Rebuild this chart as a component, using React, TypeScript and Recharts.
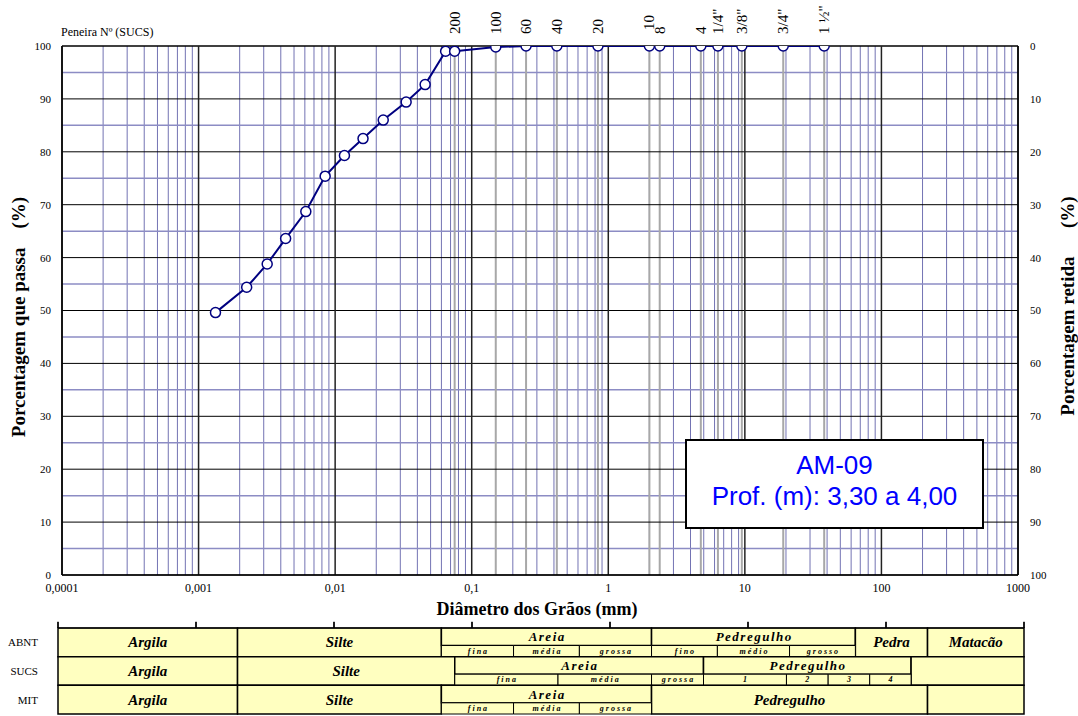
import React from 'react';
import { ComposedChart, Line, XAxis, YAxis, ReferenceLine, ReferenceArea, Label } from 'recharts';

// curva granulométrica (sedimentação + peneiramento)
const grainSizes = [0.00133, 0.00225, 0.00318, 0.00434, 0.0061, 0.00845, 0.0117, 0.016, 0.0225, 0.0331, 0.0456, 0.0644, 0.075, 0.15, 0.25, 0.42, 0.84, 2.0, 2.38, 4.76, 6.35, 9.5, 19.1, 38.1];
const percentPassing = [49.6, 54.4, 58.8, 63.6, 68.7, 75.4, 79.3, 82.5, 86.0, 89.4, 92.7, 99.0, 99.0, 99.8, 100, 100, 100, 100, 100, 100, 100, 100, 100, 100];

const sieveSizes = [0.075, 0.15, 0.25, 0.42, 0.84, 2.0, 2.38, 4.76, 6.35, 9.5, 19.1, 38.1];
const sieveLabels = ['200', '100', '60', '40', '20', '10', '8', '4', '1/4"', '3/8"', '3/4"', '1 ½"'];

const decades = [0.0001, 0.001, 0.01, 0.1, 1, 10, 100, 1000];
const decadeLabels = ['0,0001', '0,001', '0,01', '0,1', '1', '10', '100', '1000'];
const minorSteps = [2, 3, 4, 5, 6, 7, 8, 9];
const percentTicks = [0, 10, 20, 30, 40, 50, 60, 70, 80, 90, 100];
const halfTicks = [5, 15, 25, 35, 45, 55, 65, 75, 85, 95];

// tabela de classificação: [nome, de (mm), até (mm)]
const systems = ['ABNT', 'SUCS', 'MIT'];
const abntClasses = [['Argila', 0.0001, 0.002], ['Silte', 0.002, 0.06], ['Areia', 0.06, 2], ['Pedregulho', 2, 60], ['Pedra', 60, 200], ['Matacão', 200, 1000]];
const abntSubclasses = [['fina', 0.06, 0.2], ['média', 0.2, 0.6], ['grossa', 0.6, 2], ['fino', 2, 6], ['médio', 6, 20], ['grosso', 20, 60]];
const sucsClasses = [['Argila', 0.0001, 0.002], ['Silte', 0.002, 0.075], ['Areia', 0.075, 4.76], ['Pedregulho', 4.76, 152], ['', 152, 1000]];
const sucsSubclasses = [['fina', 0.075, 0.42], ['média', 0.42, 2], ['grossa', 2, 4.76], ['1', 4.76, 19], ['2', 19, 38.1], ['3', 38.1, 76.2], ['4', 76.2, 152]];
const mitClasses = [['Argila', 0.0001, 0.002], ['Silte', 0.002, 0.06], ['Areia', 0.06, 2], ['Pedregulho', 2, 200], ['', 200, 1000]];
const mitSubclasses = [['fina', 0.06, 0.2], ['média', 0.2, 0.6], ['grossa', 0.6, 2]];

const curve = grainSizes.map((d, i) => ({ d, pass: percentPassing[i] }));
const minorGrid = decades.slice(0, -1).flatMap((d) => minorSteps.map((m) => d * m));
const tableScaleData = decades.map((d) => ({ d, row: 0 }));

const HEAD = 0.61;
const tableRows: any[] = [[abntClasses, abntSubclasses], [sucsClasses, sucsSubclasses], [mitClasses, mitSubclasses]];
const cells = tableRows.flatMap(([main, sub]: any[], r: number) => [
  ...main.map(([name, a, b]: any) => {
    const split = sub.some(([, sa, sb]: any) => sa >= a && sb <= b);
    return { name, a, b, y1: r, y2: split ? r + HEAD : r + 1, kind: split ? 'head' : 'main' };
  }),
  ...sub.map(([name, a, b]: any) => ({ name, a, b, y1: r + HEAD, y2: r + 1, kind: 'sub' })),
]);

const NAVY = '#000080';
const SERIF = '"Liberation Serif", "Times New Roman", serif';

const SieveTick = ({ x, payload }: any) => {
  const label = sieveLabels[sieveSizes.indexOf(payload?.value)] ?? '';
  return (
    <text transform={`translate(${x + 5},${label === '10' ? 30 : 34}) rotate(-90)`} fontSize={15} fill="#000">
      {label}
    </text>
  );
};

const VerticalTitle = ({ text, cx, cy }: any) => (
  <text
    transform={`translate(${cx},${cy}) rotate(-90)`}
    textAnchor="middle"
    fontSize={19}
    fontWeight="bold"
    fill="#000"
    style={{ whiteSpace: 'pre' }}
  >
    {text}
  </text>
);

const CellText = ({ viewBox, text, kind }: any) => {
  if (!text || !viewBox) return null;
  const { x, y, width, height } = viewBox;
  const size = kind === 'sub' ? 8 : kind === 'head' ? 13 : 15;
  const spacing = kind === 'sub' ? 2 : kind === 'head' ? 1.5 : 0;
  return (
    <text
      x={x + width / 2 + spacing / 2}
      y={y + height / 2}
      textAnchor="middle"
      dominantBaseline="central"
      fontSize={size}
      fontWeight="bold"
      fontStyle="italic"
      letterSpacing={spacing}
      fill="#000"
    >
      {text}
    </text>
  );
};

export default function App() {
  return (
    <div style={{ position: 'absolute', left: 0, top: 0, width: 1078, height: 716, background: '#fff', fontFamily: SERIF }}>
      <div style={{ position: 'absolute', left: 0, top: 0 }}>
        <ComposedChart width={1078} height={640} data={curve} margin={{ top: 6, right: 20, bottom: 20, left: 22 }}>
          <XAxis
            dataKey="d"
            type="number"
            scale="log"
            domain={[0.0001, 1000]}
            allowDataOverflow
            ticks={decades}
            interval={0}
            tickFormatter={(v: number) => decadeLabels[decades.indexOf(v)] ?? ''}
            tickLine={false}
            tickSize={0}
            tickMargin={8}
            tick={{ fontSize: 12, fill: '#000' }}
            axisLine={{ stroke: '#000', strokeWidth: 1.5 }}
            height={45}
          >
            <Label
              content={() => (
                <text x={537} y={615} textAnchor="middle" fontSize={18} fontWeight="bold" fill="#000">
                  Diâmetro dos Grãos (mm)
                </text>
              )}
            />
          </XAxis>
          <XAxis
            xAxisId="sieve"
            dataKey="d"
            orientation="top"
            type="number"
            scale="log"
            domain={[0.0001, 1000]}
            allowDataOverflow
            ticks={sieveSizes}
            interval={0}
            tick={<SieveTick />}
            tickLine={false}
            axisLine={false}
            height={40}
          >
            <Label
              content={() => (
                <text x={61} y={36} fontSize={12} fill="#000">
                  Peneira Nº (SUCS)
                </text>
              )}
            />
          </XAxis>
          <YAxis
            type="number"
            domain={[0, 100]}
            allowDataOverflow
            ticks={percentTicks}
            interval={0}
            tickLine={false}
            tickSize={0}
            tickMargin={11}
            tick={{ fontSize: 11, fill: '#000' }}
            axisLine={{ stroke: '#000', strokeWidth: 1.5 }}
            width={40}
          >
            <Label content={() => <VerticalTitle text={'Porcentagem que passa    (%)'} cx={25} cy={317} />} />
          </YAxis>
          <YAxis
            yAxisId="right"
            orientation="right"
            type="number"
            domain={[0, 100]}
            reversed
            allowDataOverflow
            ticks={percentTicks}
            interval={0}
            tickLine={false}
            tickSize={0}
            tickMargin={12}
            tick={{ fontSize: 11, fill: '#000' }}
            axisLine={{ stroke: '#000', strokeWidth: 1.5 }}
            width={40}
          >
            <Label content={() => <VerticalTitle text={'Porcentagem retida      (%)'} cx={1074} cy={306} />} />
          </YAxis>

          {minorGrid.map((v) => (
            <ReferenceLine key={`m${v}`} x={v} stroke="#7373B3" strokeWidth={1} ifOverflow="visible" />
          ))}
          {halfTicks.map((v) => (
            <ReferenceLine key={`h${v}`} y={v} stroke="#8C8CC4" strokeWidth={1.5} ifOverflow="visible" />
          ))}
          {sieveSizes.map((v) => (
            <ReferenceLine key={`s${v}`} x={v} stroke="#A8A8A8" strokeWidth={2} ifOverflow="visible" />
          ))}
          {percentTicks.map((v) => (
            <ReferenceLine key={`p${v}`} y={v} stroke="#000" strokeWidth={v === 100 ? 1.5 : 1} ifOverflow="visible" />
          ))}
          {decades.map((v) => (
            <ReferenceLine key={`d${v}`} x={v} stroke="#222" strokeWidth={1.5} ifOverflow="visible" />
          ))}

          <Line
            dataKey="pass"
            stroke={NAVY}
            strokeWidth={2}
            dot={{ r: 5, fill: '#fff', stroke: NAVY, strokeWidth: 1.5 }}
            isAnimationActive={false}
          />
        </ComposedChart>
      </div>

      <div style={{ position: 'absolute', left: 0, top: 600 }}>
        <ComposedChart width={1078} height={116} data={tableScaleData} margin={{ top: 18, right: 54, bottom: 2, left: 18 }}>
          <XAxis
            xAxisId="t"
            dataKey="d"
            orientation="top"
            type="number"
            scale="log"
            domain={[0.0001, 1000]}
            allowDataOverflow
            ticks={decades}
            interval={0}
            tickFormatter={() => ' '}
            tickSize={6}
            tickLine={{ stroke: '#000' }}
            axisLine={{ stroke: '#000' }}
            height={10}
          />
          <YAxis
            yAxisId="r"
            type="number"
            domain={[0, 3]}
            reversed
            allowDataOverflow
            ticks={[0.5, 1.5, 2.5]}
            interval={0}
            tickFormatter={(v: number) => systems[Math.floor(v)]}
            tickLine={false}
            axisLine={false}
            tickSize={0}
            tickMargin={20}
            tick={{ fontSize: 11, fill: '#000' }}
            width={40}
          />
          <Line
            xAxisId="t"
            yAxisId="r"
            dataKey="row"
            stroke="none"
            dot={false}
            activeDot={false}
            isAnimationActive={false}
          />
          {decades.map((v) => (
            <ReferenceLine
              key={`t${v}`}
              xAxisId="t"
              yAxisId="r"
              segment={[{ x: v, y: -0.22 }, { x: v, y: 0 }]}
              stroke="#000"
              strokeWidth={1.5}
              ifOverflow="visible"
            />
          ))}
          {cells.map((c: any, i: number) => (
            <ReferenceArea
              key={i}
              xAxisId="t"
              yAxisId="r"
              x1={c.a}
              x2={c.b}
              y1={c.y1}
              y2={c.y2}
              fill="#FFFFC0"
              fillOpacity={1}
              stroke="#000"
              strokeWidth={c.kind === 'sub' ? 1 : 1.5}
              ifOverflow="visible"
              label={<CellText text={c.name} kind={c.kind} />}
            />
          ))}
        </ComposedChart>
      </div>

      <div
        style={{
          position: 'absolute',
          left: 685,
          top: 439,
          width: 299,
          height: 90,
          boxSizing: 'border-box',
          border: '2px solid #000',
          background: '#fff',
          color: '#0000FF',
          fontFamily: '"Liberation Sans", Arial, sans-serif',
          fontSize: 26,
          lineHeight: '31px',
          textAlign: 'center',
          paddingTop: 9,
        }}
      >
        <div>AM-09</div>
        <div>Prof. (m): 3,30 a 4,00</div>
      </div>
    </div>
  );
}
